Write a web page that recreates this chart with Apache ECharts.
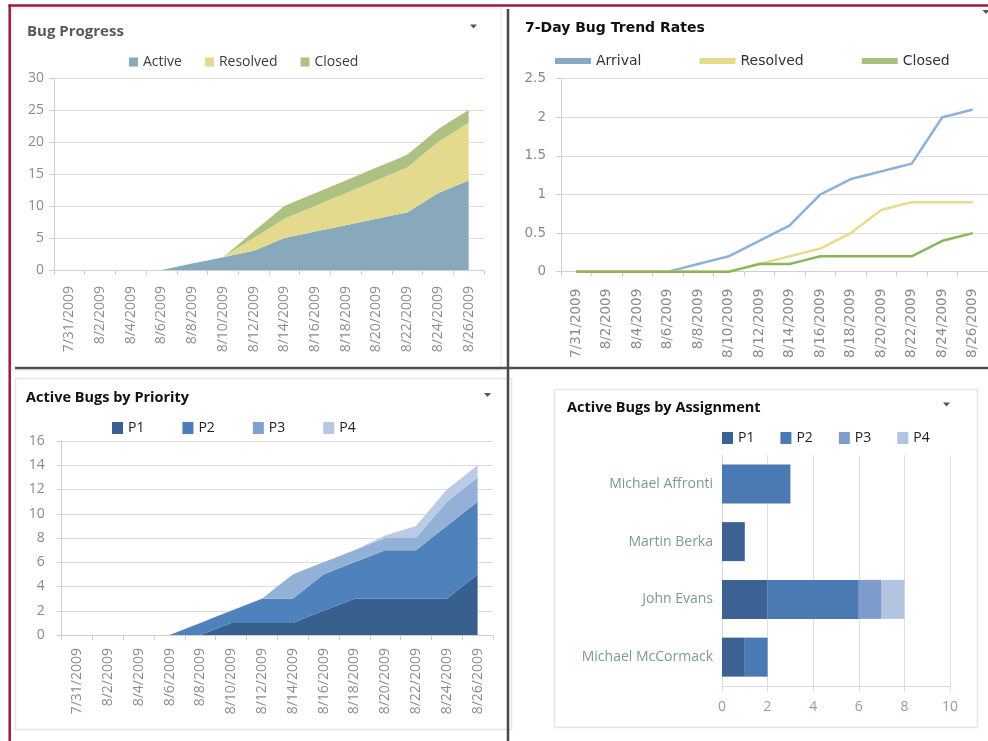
<!DOCTYPE html>
<html>
<head>
<meta charset="utf-8">
<title>Bug Dashboard</title>
<script src="https://cdn.jsdelivr.net/npm/echarts@6/dist/echarts.min.js"></script>
<style>
  html, body { margin: 0; padding: 0; background: #fff; }
  #chart { width: 988px; height: 741px; }
</style>
</head>
<body>
<div id="chart"></div>
<script>
// x categories: one per day, 7/30 and 8/27 are empty padding days
const dates = [
    "7/30/2009", "7/31/2009", "8/1/2009", "8/2/2009", "8/3/2009", "8/4/2009",
    "8/5/2009", "8/6/2009", "8/7/2009", "8/8/2009", "8/9/2009", "8/10/2009",
    "8/11/2009", "8/12/2009", "8/13/2009", "8/14/2009", "8/15/2009", "8/16/2009",
    "8/17/2009", "8/18/2009", "8/19/2009", "8/20/2009", "8/21/2009", "8/22/2009",
    "8/23/2009", "8/24/2009", "8/25/2009", "8/26/2009", "8/27/2009",
];

// Bug Progress, 7/31 .. 8/26
const progActive = [0, 0, 0, 0, 0, 0, 0, 0.5, 1, 1.5, 2, 2.5, 3, 4, 5, 5.5, 6, 6.5, 7, 7.5, 8, 8.5, 9, 10.5, 12, 13, 14];
const progResolved = [0, 0, 0, 0, 0, 0, 0, 0, 0, 0, 0, 1, 2, 2.5, 3, 3.5, 4, 4.5, 5, 5.5, 6, 6.5, 7, 7.5, 8, 8.5, 9];
const progClosed = [0, 0, 0, 0, 0, 0, 0, 0, 0, 0, 0, 0.5, 1, 1.5, 2, 2, 2, 2, 2, 2, 2, 2, 2, 2, 2, 2, 2];

// 7-Day Bug Trend Rates, 7/31 .. 8/26
const rateArrival = [0, 0, 0, 0, 0, 0, 0, 0.05, 0.1, 0.15, 0.2, 0.3, 0.4, 0.5, 0.6, 0.8, 1, 1.1, 1.2, 1.25, 1.3, 1.35, 1.4, 1.7, 2, 2.05, 2.1];
const rateResolved = [0, 0, 0, 0, 0, 0, 0, 0, 0, 0, 0, 0.05, 0.1, 0.15, 0.2, 0.25, 0.3, 0.4, 0.5, 0.65, 0.8, 0.85, 0.9, 0.9, 0.9, 0.9, 0.9];
const rateClosed = [0, 0, 0, 0, 0, 0, 0, 0, 0, 0, 0, 0.05, 0.1, 0.1, 0.1, 0.15, 0.2, 0.2, 0.2, 0.2, 0.2, 0.2, 0.2, 0.3, 0.4, 0.45, 0.5];

// Active Bugs by Priority, 7/31 .. 8/26
const prioP1 = [0, 0, 0, 0, 0, 0, 0, 0, 0, 0.5, 1, 1, 1, 1, 1, 1.5, 2, 2.5, 3, 3, 3, 3, 3, 3, 3, 4, 5];
const prioP2 = [0, 0, 0, 0, 0, 0, 0, 0.5, 1, 1, 1, 1.5, 2, 2, 2, 2.5, 3, 3, 3, 3.5, 4, 4, 4, 5, 6, 6, 6];
const prioP3 = [0, 0, 0, 0, 0, 0, 0, 0, 0, 0, 0, 0, 0, 1, 2, 1.5, 1, 1, 1, 1, 1, 1, 1, 1.5, 2, 2, 2];
const prioP4 = [0, 0, 0, 0, 0, 0, 0, 0, 0, 0, 0, 0, 0, 0, 0, 0, 0, 0, 0, 0.1, 0.2, 0.6, 1, 1, 1, 1, 1];

// Active Bugs by Assignment
const people = ["Michael Affronti", "Martin Berka", "John Evans", "Michael McCormack"];
const assignP1 = [0, 1, 2, 1];
const assignP2 = [3, 0, 4, 1];
const assignP3 = [0, 0, 1, 0];
const assignP4 = [0, 0, 1, 0];

const pad = (arr) => [null].concat(arr, [null]);

const segoe = "Open Sans";
const verdana = "DejaVu Sans";

function dayAxis(gridIndex, font, size, margin) {
    return {
        type: "category",
        gridIndex: gridIndex,
        data: dates,
        boundaryGap: false,
        axisLine: { lineStyle: { color: "#cfcfcf", width: 1 } },
        axisTick: {
            interval: (i) => i % 2 === 0,
            length: 5,
            lineStyle: { color: "#cfcfcf" },
        },
        axisLabel: {
            interval: (i) => i % 2 === 1,
            rotate: 90,
            margin: margin,
            color: "#8c8c8c",
            fontFamily: font,
            fontSize: size,
        },
        splitLine: { show: false },
    };
}

function valueAxis(gridIndex, max, step, font, size, margin) {
    return {
        type: "value",
        gridIndex: gridIndex,
        min: 0,
        max: max,
        interval: step,
        axisLine: { show: true, lineStyle: { color: "#cfcfcf" } },
        axisTick: { show: true, length: 5, lineStyle: { color: "#cfcfcf" } },
        axisLabel: { color: "#8a8a8a", fontFamily: font, fontSize: size, margin: margin },
        splitLine: { lineStyle: { color: "#dcdcdc" } },
    };
}

function area(name, data, color, axis) {
    return {
        name: name,
        type: "line",
        stack: "s" + axis,
        xAxisIndex: axis,
        yAxisIndex: axis,
        data: pad(data),
        symbol: "none",
        lineStyle: { width: 0 },
        itemStyle: { color: color },
        areaStyle: { color: color, opacity: 1 },
    };
}

function rateLine(name, data, color) {
    return {
        name: name,
        type: "line",
        xAxisIndex: 1,
        yAxisIndex: 1,
        data: pad(data),
        symbol: "none",
        lineStyle: { width: 2.5, color: color },
        itemStyle: { color: color },
    };
}

function bar(name, data, color) {
    return {
        name: name,
        type: "bar",
        stack: "assign",
        xAxisIndex: 3,
        yAxisIndex: 3,
        data: data,
        barWidth: 39,
        itemStyle: { color: color },
    };
}

function tri(cx, cy) {
    return {
        type: "polygon",
        shape: { points: [[cx - 3.5, cy - 2], [cx + 3.5, cy - 2], [cx, cy + 2]] },
        style: { fill: "#555" },
    };
}

const chart = echarts.init(document.getElementById("chart"));
chart.setOption({
    animation: false,
    backgroundColor: "#fff",
    title: [
        { text: "Bug Progress", left: 27, top: 24, padding: 0,
          textStyle: { fontFamily: segoe, fontSize: 15, fontWeight: "bold", color: "#595959" } },
        { text: "7-Day Bug Trend Rates", left: 525, top: 21, padding: 0,
          textStyle: { fontFamily: verdana, fontSize: 14, fontWeight: "bold", color: "#111" } },
        { text: "Active Bugs by Priority", left: 26, top: 390, padding: 0,
          textStyle: { fontFamily: segoe, fontSize: 14.5, fontWeight: "bold", color: "#111" } },
        { text: "Active Bugs by Assignment", left: 567, top: 400, padding: 0,
          textStyle: { fontFamily: segoe, fontSize: 14.5, fontWeight: "bold", color: "#111" } },
    ],
    legend: [
        {
            left: 129, top: 55, padding: 0, icon: "rect", itemWidth: 9, itemHeight: 9, itemGap: 23,
            itemStyle: { borderWidth: 0 },
            textStyle: { fontFamily: segoe, fontSize: 14, color: "#3c3c3c" },
            data: [
                { name: "Active", itemStyle: { color: "#88a8bb" } },
                { name: "Resolved", itemStyle: { color: "#e3da8d" } },
                { name: "Closed", itemStyle: { color: "#adc183" } },
            ],
        },
        {
            left: 555, top: 54, padding: 0, icon: "rect", itemWidth: 36, itemHeight: 6, itemGap: 58,
            itemStyle: { borderWidth: 0 },
            textStyle: { fontFamily: verdana, fontSize: 14, color: "#333" },
            data: [
                { name: "Arrival", itemStyle: { color: "#87a9c6" } },
                { name: "Resolved", itemStyle: { color: "#e5dc8e" } },
                { name: "Closed", itemStyle: { color: "#a8c07d" } },
            ],
        },
        {
            left: 112, top: 421, padding: 0, icon: "rect", itemWidth: 11, itemHeight: 12, itemGap: 38,
            itemStyle: { borderWidth: 0 },
            textStyle: { fontFamily: segoe, fontSize: 14, color: "#222" },
            data: [
                { name: "P1", itemStyle: { color: "#3b6193" } },
                { name: "P2", itemStyle: { color: "#4a7dba" } },
                { name: "P3", itemStyle: { color: "#80a0cf" } },
                { name: "P4", itemStyle: { color: "#b5c7e4" } },
            ],
        },
        {
            left: 722, top: 431, padding: 0, icon: "rect", itemWidth: 11, itemHeight: 12, itemGap: 26,
            itemStyle: { borderWidth: 0 },
            textStyle: { fontFamily: segoe, fontSize: 14, color: "#222" },
            data: [
                { name: "P1", itemStyle: { color: "#3b6193" } },
                { name: "P2", itemStyle: { color: "#4a7ab5" } },
                { name: "P3", itemStyle: { color: "#7f9dcb" } },
                { name: "P4", itemStyle: { color: "#b3c4e1" } },
            ],
        },
    ],
    grid: [
        { left: 54, top: 78, width: 430, height: 192 },
        { left: 561, top: 78.7, width: 429.3, height: 193 },
        { left: 61.7, top: 441, width: 431.3, height: 194 },
        { left: 722, top: 455, width: 228, height: 231 },
    ],
    xAxis: [
        dayAxis(0, segoe, 14, 16),
        dayAxis(1, verdana, 13.5, 17),
        dayAxis(2, segoe, 14, 13),
        {
            type: "value",
            gridIndex: 3,
            min: 0,
            max: 10,
            interval: 2,
            axisLine: { show: true, lineStyle: { color: "#d9d9d9" } },
            axisTick: { show: true, length: 5, lineStyle: { color: "#d9d9d9" } },
            axisLabel: { color: "#8ea2a2", fontFamily: segoe, fontSize: 14, margin: 14 },
            splitLine: { show: true, lineStyle: { color: "#dedede" } },
        },
    ],
    yAxis: [
        valueAxis(0, 30, 5, segoe, 14, 10),
        valueAxis(1, 2.5, 0.5, verdana, 13.5, 15),
        valueAxis(2, 16, 2, segoe, 14, 17),
        {
            type: "category",
            gridIndex: 3,
            data: people,
            inverse: true,
            axisLine: { show: true, lineStyle: { color: "#d9d9d9" } },
            axisTick: { show: false },
            axisLabel: { color: "#7c9999", fontFamily: segoe, fontSize: 14, margin: 9 },
            splitLine: { show: false },
        },
    ],
    series: [
        area("Active", progActive, "#88a8bb", 0),
        area("Resolved", progResolved, "#e3da8d", 0),
        area("Closed", progClosed, "#adc183", 0),
        rateLine("Arrival", rateArrival, "#8db1da"),
        rateLine("Resolved", rateResolved, "#e6dc8c"),
        rateLine("Closed", rateClosed, "#8cb659"),
        area("P1", prioP1, "#38608f", 2),
        area("P2", prioP2, "#4f81bd", 2),
        area("P3", prioP3, "#93b0d6", 2),
        area("P4", prioP4, "#bacce5", 2),
        bar("P1", assignP1, "#3c6294"),
        bar("P2", assignP2, "#4a79b3"),
        bar("P3", assignP3, "#7e9ccb"),
        bar("P4", assignP4, "#b3c4e1"),
    ],
    graphic: {
        elements: [
            { type: "rect", shape: { x: 12, y: 8, width: 489, height: 362 },
              style: { fill: "none", stroke: "#e4e4e4", lineWidth: 1 } },
            { type: "rect", shape: { x: 15.5, y: 378.5, width: 496, height: 351 },
              style: { fill: "none", stroke: "#e6e6e0", lineWidth: 1.5 } },
            { type: "rect", shape: { x: 554.5, y: 389.5, width: 423, height: 338 },
              style: { fill: "none", stroke: "#e6e6e0", lineWidth: 1.5 } },
            { type: "line", shape: { x1: 15, y1: 368, x2: 988, y2: 368 },
              style: { stroke: "#505050", lineWidth: 2.5 } },
            { type: "line", shape: { x1: 508, y1: 9, x2: 508, y2: 741 },
              style: { stroke: "#484848", lineWidth: 2.5 } },
            { type: "line", shape: { x1: 8.5, y1: 5.5, x2: 988, y2: 5.5 },
              style: { stroke: "#a0163f", lineWidth: 2.5 } },
            { type: "line", shape: { x1: 9.7, y1: 4.5, x2: 9.7, y2: 741 },
              style: { stroke: "#a0163f", lineWidth: 2.5 } },
            tri(473.5, 26.5),
            tri(986, 12),
            tri(487.5, 395),
            tri(946.5, 404.5),
        ],
    },
});
</script>
</body>
</html>
